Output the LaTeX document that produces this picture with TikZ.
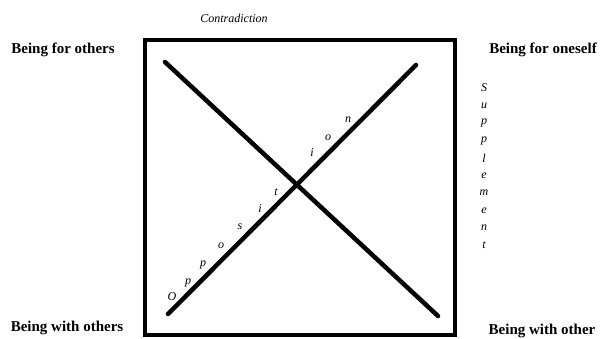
\documentclass[tikz,border=0pt]{standalone}
\usepackage{fontspec}
\setmainfont{Liberation Serif}
\usetikzlibrary{calc}
\tikzset{corner/.style={font=\fontsize{15}{18}\selectfont\bfseries,inner sep=0pt},
  letter/.style={font=\fontsize{12}{14}\selectfont\itshape,inner sep=0pt},
  diag/.style={line width=4.5pt,line cap=round}}

\begin{document}
\begin{tikzpicture}[x=1pt,y=-1pt]
\useasboundingbox (0,0) rectangle (603,339);
\draw[line width=4pt] (145,40) rectangle (455,335);
\coordinate (tl) at (165,62);
\coordinate (br) at (438,316);
\coordinate (bl) at (168,314);
\coordinate (tr) at (416,65);
\draw[diag] (tl)--(br);
\draw[diag] (bl)--(tr);
\node[letter] (contra) at (234,18) {Contradiction};
\node[corner] (forothers) at (63,50) {Being for others};
\node[corner] (foroneself) at (543,50) {Being for oneself};
\node[corner] (withothers) at (67,328) {Being with others};
\node[corner] (withother) at (542,331) {Being with other};
\foreach \ch/\x/\y [count=\i] in {O/172/297,p/188/283,p/203/265,o/221/246,s/240/227,i/260/209,t/276/192,i/312/153,o/328/138,n/348/120}
  \node[letter] (opp\i) at (\x,\y) {\ch};
\foreach \ch [count=\i] in {S,u,p,p,l,e,m,e,n,t}
  \node[letter] (sup\i) at (484,70.5+17.5*\i) {\ch};
\end{tikzpicture}
\end{document}
